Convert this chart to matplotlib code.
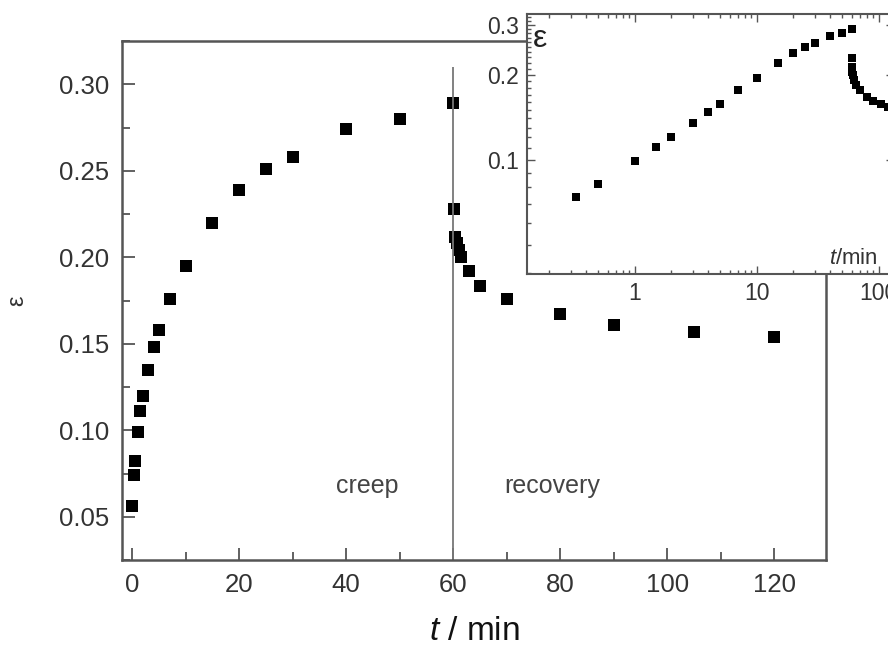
import matplotlib
matplotlib.use("Agg")
from matplotlib import pyplot as plt
from matplotlib.ticker import FixedLocator, MultipleLocator, NullFormatter

plt.rcParams['font.family'] = ['Liberation Sans', 'DejaVu Sans']
plt.rcParams['mathtext.fontset'] = 'custom'
plt.rcParams['mathtext.it'] = 'Liberation Sans:italic'
plt.rcParams['mathtext.rm'] = 'Liberation Sans'

# creep (load on) and recovery (load off at 60 min)
creep_t = [0, 0.33, 0.5, 1, 1.5, 2, 3, 4, 5, 7, 10, 15, 20, 25, 30, 40, 50, 60]
creep_eps = [0.056, 0.074, 0.082, 0.099, 0.111, 0.120, 0.135, 0.148, 0.158, 0.176,
             0.195, 0.220, 0.239, 0.251, 0.258, 0.274, 0.280, 0.289]
rec_t = [60.1, 60.33, 60.67, 61, 61.5, 63, 65, 70, 80, 90, 105, 120]
rec_eps = [0.228, 0.212, 0.208, 0.204, 0.200, 0.192, 0.1835, 0.176, 0.167, 0.161,
           0.157, 0.154]

xticks = [0, 20, 40, 60, 80, 100, 120]
yticks = [0.05, 0.10, 0.15, 0.20, 0.25, 0.30]
inset_yticks = [0.1, 0.2, 0.3]

edge = '#555555'
txt = '#333333'

fig = plt.figure(figsize=(8.88, 6.54), dpi=100)
ax = fig.add_axes([0.1374, 0.1437, 0.7928, 0.7936])

ax.plot(creep_t, creep_eps, 's', color='black', ms=8.5, mew=0)
ax.plot(rec_t, rec_eps, 's', color='black', ms=8.5, mew=0)
ax.vlines(60, 0.025, 0.31, color='#777777', lw=1.3)

ax.set_xlim(-1.9, 129.7)
ax.set_ylim(0.025, 0.325)
ax.set_xticks(xticks)
ax.set_yticks(yticks)
ax.set_yticklabels(['%.2f' % v for v in yticks])
ax.xaxis.set_minor_locator(MultipleLocator(10))
ax.yaxis.set_minor_locator(MultipleLocator(0.025))
ax.tick_params(which='both', direction='in', top=False, right=False,
               color=edge, width=1.3, labelsize=18.5, labelcolor=txt)
ax.tick_params(which='major', length=9, pad=9)
ax.tick_params(which='minor', length=6)
for s in ax.spines.values():
    s.set_color(edge)
    s.set_linewidth(1.8)

ax.set_xlabel('$t$ / min', fontsize=24, color='#111111', labelpad=14)
ax.set_ylabel('ε', fontsize=17, color=txt, labelpad=22)

ax.text(44, 0.068, 'creep', fontsize=18, color='#444444', ha='center', va='center')
ax.text(78.5, 0.068, 'recovery', fontsize=18, color='#444444', ha='center', va='center')

# inset, log-log
ins = fig.add_axes([0.5935, 0.581, 0.413, 0.3976])
ins.set_facecolor('white')
ins.loglog(creep_t[1:], creep_eps[1:], 's', color='black', ms=5.5, mew=0)
ins.loglog(rec_t, rec_eps, 's', color='black', ms=5.5, mew=0)
ins.set_xlim(0.131, 133)
ins.set_ylim(0.0396, 0.327)
ins.set_xticks([1, 10, 100])
ins.set_xticklabels(['1', '10', '100'])
ins.yaxis.set_major_locator(FixedLocator(inset_yticks))
ins.yaxis.set_minor_locator(FixedLocator([i / 100 for i in range(4, 33)
                                          if i not in (10, 20, 30)]))
ins.yaxis.set_minor_formatter(NullFormatter())
ins.set_yticklabels(['0.1', '0.2', '0.3'])
ins.tick_params(which='both', direction='in', top=True, right=True,
                color=edge, width=1.0, labelsize=16.5, labelcolor=txt)
ins.tick_params(which='major', length=6, pad=6)
ins.tick_params(which='minor', length=3)
for s in ins.spines.values():
    s.set_color(edge)
    s.set_linewidth(1.5)
ins.text(0.015, 0.96, 'ε', transform=ins.transAxes, fontsize=23, color='#222222',
         ha='left', va='top')
ins.text(0.955, 0.02, '$t$/min', transform=ins.transAxes, fontsize=16, color=txt,
         ha='right', va='bottom')

fig.savefig('out.png', dpi=100)
